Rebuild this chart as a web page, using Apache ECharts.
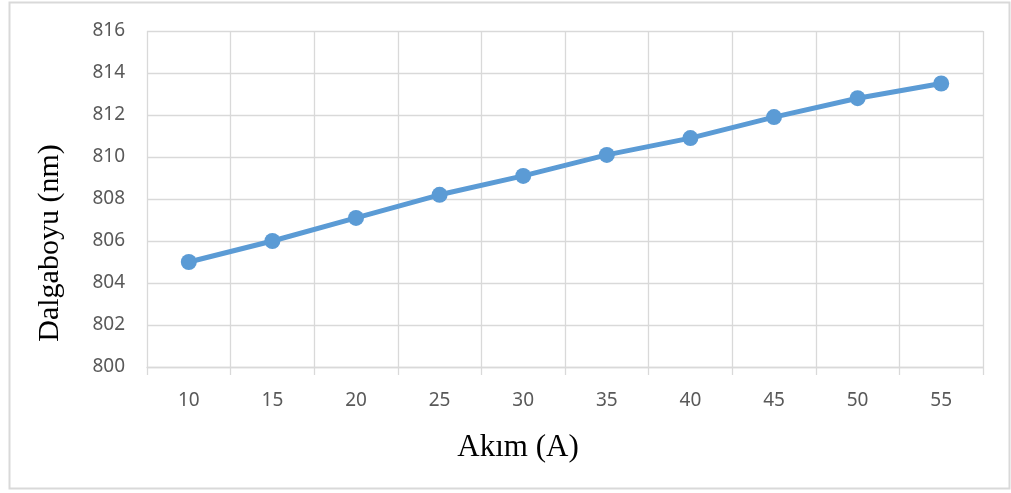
<!DOCTYPE html>
<html>
<head>
<meta charset="utf-8">
<script src="https://cdn.jsdelivr.net/npm/echarts@6/dist/echarts.min.js"></script>
<style>
  html, body { margin: 0; padding: 0; background: #ffffff; }
  #chart { width: 1011px; height: 493px; }
</style>
</head>
<body>
<div id="chart"></div>
<script>
// Current (A) on the horizontal axis
const currents = ['10', '15', '20', '25', '30', '35', '40', '45', '50', '55'];
// Measured wavelength (nm) at each current
const wavelengths = [805.0, 806.0, 807.1, 808.2, 809.1, 810.1, 810.9, 811.9, 812.8, 813.5];
// Wavelength axis range and step
const yMin = 800;
const yMax = 816;
const yStep = 2;

const gridColor = '#d9d9d9';
const labelColor = '#595959';

const chart = echarts.init(document.getElementById('chart'), null, { renderer: 'canvas' });

chart.setOption({
  animation: false,
  backgroundColor: '#ffffff',
  grid: { left: 147, right: 28, top: 31, bottom: 126 },
  xAxis: {
    type: 'category',
    data: currents,
    boundaryGap: true,
    axisLine: { show: true, lineStyle: { color: gridColor, width: 1.3 } },
    axisTick: { show: true, length: 8, lineStyle: { color: gridColor, width: 1.3 } },
    axisLabel: { color: labelColor, fontFamily: 'Noto Sans', fontSize: 19, margin: 24 },
    splitLine: { show: true, lineStyle: { color: gridColor, width: 1.3 } }
  },
  yAxis: {
    type: 'value',
    min: yMin,
    max: yMax,
    interval: yStep,
    axisLine: { show: false },
    axisTick: { show: false },
    axisLabel: {
      color: labelColor, fontFamily: 'Noto Sans', fontSize: 19, margin: 22,
      padding: [4, 0, 0, 0]
    },
    splitLine: { show: true, lineStyle: { color: gridColor, width: 1.3 } }
  },
  series: [{
    type: 'line',
    data: wavelengths,
    symbol: 'circle',
    symbolSize: 16,
    lineStyle: { color: '#5b9bd5', width: 5 },
    itemStyle: { color: '#5b9bd5' }
  }],
  graphic: [
    {
      // outer chart frame
      type: 'rect',
      z: -1,
      shape: { x: 9.5, y: 2.5, width: 1000, height: 486 },
      style: { fill: null, stroke: gridColor, lineWidth: 2 }
    },
    {
      type: 'text',
      x: 518,
      y: 448,
      style: {
        text: 'Akım (A)',
        font: '31px "Liberation Serif", "Times New Roman", serif',
        fill: '#000000',
        align: 'center',
        verticalAlign: 'middle'
      }
    },
    {
      type: 'text',
      x: 50,
      y: 243,
      rotation: Math.PI / 2,
      style: {
        text: 'Dalgaboyu (nm)',
        font: '30px "Liberation Serif", "Times New Roman", serif',
        fill: '#000000',
        align: 'center',
        verticalAlign: 'middle'
      }
    }
  ]
});
</script>
</body>
</html>
